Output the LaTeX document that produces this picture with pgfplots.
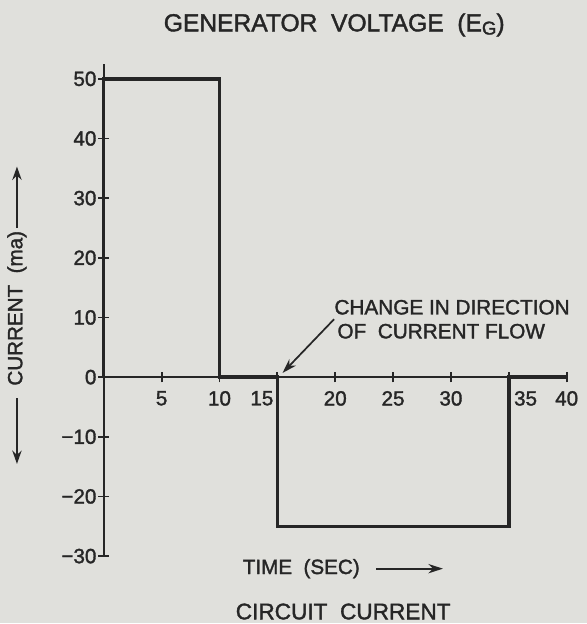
\documentclass[border=0pt]{standalone}
\usepackage{fontspec}
\setmainfont{Liberation Sans}[FakeBold=1.6]
\usepackage{pgfplots}
\pgfplotsset{compat=1.18}
\usetikzlibrary{arrows.meta}
\definecolor{paper}{RGB}{224,224,220}
\definecolor{ink}{RGB}{38,38,38}
\newcommand{\lab}{\fontsize{15.5pt}{18pt}\selectfont}
\begin{document}
\begin{tikzpicture}
\fill[paper] (-78pt,-184.5pt) rectangle (363pt,283.5pt);
\begin{axis}[
  at={(0pt,0pt)}, anchor=origin,
  x=8.7pt, y=4.485pt,
  xmin=0, xmax=40, ymin=-30, ymax=52.5,
  axis lines=middle,
  axis line style={-, ink, line width=1.6pt},
  clip=false,
  hide obscured x ticks=false,
  hide obscured y ticks=false,
  xtick={5,10,15,20,25,30,35,40},
  xticklabels={5,10,\makebox[0pt][r]{15\kern3pt},20,25,30,\makebox[0pt][l]{\kern4pt 35},40},
  ytick={-30,-20,-10,0,10,20,30,40,50},
  yticklabels={−30,−20,−10,0,10,20,30,40,50},
  tick align=center,
  major tick length=8pt,
  tick style={ink, line width=1.4pt},
  ticklabel style={font=\lab, text=ink},
  xticklabel style={yshift=-3pt},
  yticklabel style={xshift=2pt},
]
\addplot[ink, line width=2.6pt] coordinates {
  (0,0) (0,50) (10,50) (10,0) (15,0) (15,-25) (35,-25) (35,0) (40,0)
};
\draw[ink, line width=1.3pt, -{Stealth[length=11pt,width=7pt]}] (axis cs:19.9,9.7) -- (axis cs:15.45,0.7);
\end{axis}
% title
\node[text=ink, font=\fontsize{18.5pt}{22pt}\selectfont] at (173.25pt,264.75pt)
  {GENERATOR\ \ VOLTAGE\ \ (E\raisebox{-0.25ex}{\fontsize{14pt}{16pt}\selectfont G})};
% annotation
\node[text=ink, anchor=west, inner sep=0pt, font=\fontsize{15.6pt}{19pt}\selectfont] at (173.25pt,52.5pt) {CHANGE IN DIRECTION};
\node[text=ink, anchor=west, inner sep=0pt, font=\fontsize{15.6pt}{19pt}\selectfont] at (175.5pt,34.5pt) {OF\ \ CURRENT FLOW};
% y label
\node[text=ink, rotate=90, font=\fontsize{15.5pt}{18pt}\selectfont] at (-65.25pt,51.75pt) {CURRENT\ \ (ma)};
\draw[ink, line width=1.4pt, -{Stealth[length=10pt,width=7pt]}] (-65.25pt,112pt) -- (-65.25pt,158.25pt);
\draw[ink, line width=1.4pt, -{Stealth[length=10pt,width=7pt]}] (-65.25pt,-16pt) -- (-65.25pt,-65.25pt);
% x label
\node[text=ink, font=\fontsize{15.5pt}{18pt}\selectfont] at (148.5pt,-144pt) {TIME\ \ (SEC)};
\draw[ink, line width=1.4pt, -{Stealth[length=11pt,width=7pt]}] (204.75pt,-144pt) -- (255pt,-144pt);
% caption
\node[text=ink, font=\fontsize{17pt}{20pt}\selectfont] at (180pt,-176.25pt) {CIRCUIT\ \ CURRENT};
\end{tikzpicture}
\end{document}
